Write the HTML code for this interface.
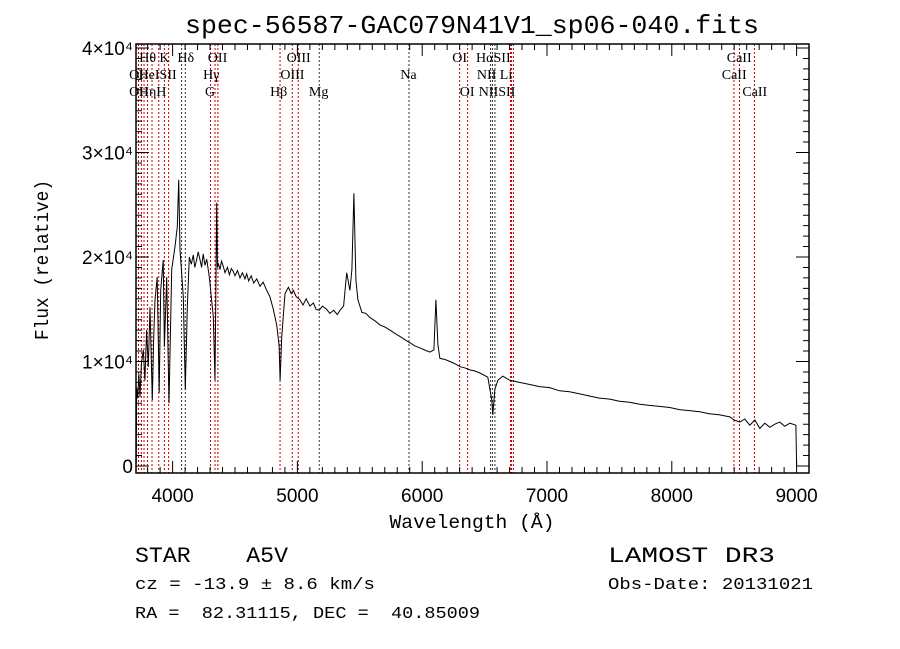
<!DOCTYPE html>
<html><head><meta charset="utf-8"><style>
html,body{margin:0;padding:0;background:#fff;}
svg{display:block;}
text{font-family:"Liberation Mono",monospace;fill:#000;white-space:pre;}
.tl{font-family:"Liberation Sans",sans-serif;font-size:19px;}
.ln{font-family:"Liberation Serif",serif;font-size:14px;}
</style></head><body>
<svg id="chart" width="900" height="649" viewBox="0 0 900 649" xmlns="http://www.w3.org/2000/svg" xml:space="preserve">
<rect width="900" height="649" fill="#fff"/>
<text x="472" y="33" text-anchor="middle" font-size="26" textLength="574" lengthAdjust="spacingAndGlyphs">spec-56587-GAC079N41V1_sp06-040.fits</text>
<g id="lines"></g>
<g id="labels"></g>
<path id="spec" fill="none" stroke="#000" stroke-width="1"/>
<g id="axes"></g>
<text x="472" y="528" text-anchor="middle" font-size="19" textLength="165" lengthAdjust="spacingAndGlyphs">Wavelength (Å)</text>
<text x="0" y="0" transform="translate(48,260) rotate(-90)" text-anchor="middle" font-size="19" textLength="160" lengthAdjust="spacingAndGlyphs">Flux (relative)</text>
<text x="135" y="562" font-size="22" textLength="153" lengthAdjust="spacingAndGlyphs">STAR    A5V</text>
<text x="135" y="589" font-size="17" textLength="240" lengthAdjust="spacingAndGlyphs">cz = -13.9 ± 8.6 km/s</text>
<text x="135" y="618" font-size="17" textLength="345" lengthAdjust="spacingAndGlyphs">RA =  82.31115, DEC =  40.85009</text>
<text x="608" y="562" font-size="22" textLength="167" lengthAdjust="spacingAndGlyphs">LAMOST DR3</text>
<text x="608" y="589" font-size="17" textLength="205" lengthAdjust="spacingAndGlyphs">Obs-Date: 20131021</text>
</svg>
<script>
const wave = [
3708,3712,3720,3730,3739,3750,3765,3778,3792,3805,
3819,3837,3848,3859,3877,3893,3905,3925,3934,3953,
3971,3993,4019,4038,4049,4059,4086,4102,4118,4134,
4150,4166,4178,4190,4205,4220,4232,4245,4260,4273,
4294,4326,4340,4353,4360,4366,4380,4392,4406,4420,
4440,4455,4470,4486,4500,4520,4540,4560,4580,4594,
4610,4630,4650,4674,4700,4725,4754,4780,4807,4834,
4853,4861,4874,4901,4928,4950,4968,4990,5021,5045,
5070,5100,5128,5150,5175,5200,5235,5260,5290,5320,
5341,5370,5395,5421,5437,5453,5469,5485,5517,5550,
5581,5620,5661,5700,5741,5780,5821,5860,5901,5940,
5982,6020,6062,6094,6110,6126,6142,6180,6222,6260,
6302,6340,6382,6420,6462,6526,6558,6566,6582,6606,
6646,6702,6780,6862,6940,7022,7100,7180,7263,7340,
7420,7503,7580,7660,7744,7820,7900,7984,8060,8140,
8224,8300,8380,8465,8500,8545,8585,8625,8665,8705,
8745,8785,8825,8865,8905,8946,8994,9000];
const flux = [
300,7500,6500,8800,6600,9800,11100,8200,13000,9500,
15200,6300,12000,15900,18100,7000,16800,19700,11400,18100,
6000,18800,21000,22900,27400,20700,16200,7300,15200,20000,
19300,20200,19000,19600,20500,19700,19000,20300,19200,19800,
18100,14300,8200,25200,19000,19400,18800,19600,19100,18500,
19000,18300,18900,18600,18200,18700,18000,18500,17900,18400,
17700,18200,17500,17900,17200,17600,16800,16200,15000,13500,
11500,8200,12300,16500,17100,16500,16800,16200,15900,15400,
16000,15300,15600,15000,14900,15300,15000,14600,14900,14500,
14900,15300,18500,16800,18800,26100,17800,15900,14700,14600,
14200,13900,13500,13300,13000,12700,12400,12100,11800,11500,
11300,11100,10900,11100,15900,11600,10300,10200,10000,9800,
9500,9400,9200,9100,8900,8500,6300,4900,7300,8200,
8600,8200,8000,7800,7600,7500,7200,7100,6900,6700,
6500,6400,6200,6100,5900,5800,5700,5600,5400,5300,
5200,5000,4900,4700,4400,4200,4500,3900,4400,3600,
4100,3700,4000,4200,3800,4100,3900,0];
const markWave = [3727,3750,3771,3798,3835,3889,3934,3968,4072,4102,4304,4340,4363,4861,4959,5007,5175,5894,6300,6364,6548,6563,6583,6708,6716,6731,8498,8542,8662];
const labelText = ["Hθ","K","Hδ","OII","OIII","OI","HαSII","CaII","OII","HeISII","Hγ","OIII","Na","NII Li","CaII","OII","HηH","G","Hβ","Mg","OI","NIISII","CaII"];
const labelWave = [3800,3935,4105,4360,5010,6300,6570,8540,3730,3880,4310,4960,5890,6580,8500,3730,3840,4300,4850,5170,6360,6600,8665];
const labelRow = [0,0,0,0,0,0,0,0,1,1,1,1,1,1,1,2,2,2,2,2,2,2,2];
const xTicks = [4000,5000,6000,7000,8000,9000];
const yTicks = [0,10000,20000,30000,40000];
const yTickLabels = ["0","1×10⁴","2×10⁴","3×10⁴","4×10⁴"];

const L=136,R=809,T=44,B=473;
const X = w => 172.6 + (w-4000)*0.1248;
const Y = f => 466 - f*104.5/10000;
const NS="http://www.w3.org/2000/svg";
function mk(tag,parent){const e=document.createElementNS(NS,tag);parent.appendChild(e);return e;}

const lg=document.getElementById('lines');
markWave.forEach(w=>{
  const l=mk('line',lg);
  
  
  l.setAttribute('x1',X(w));l.setAttribute('x2',X(w));l.setAttribute('y1',T);l.setAttribute('y2',B);
  l.setAttribute('stroke',(w>=5800&&w<=5990)||(w>=6540&&w<=6590)||w==5175||w==4102||w==4072?'#333':'#c00000');
  l.setAttribute('stroke-width','1');l.setAttribute('stroke-dasharray','2,2');
});
const lab=document.getElementById('labels');
labelText.forEach((t,i)=>{
  const e=mk('text',lab);
  
  
  e.setAttribute('class','ln');
  e.setAttribute('x',X(labelWave[i]));e.setAttribute('y',62+labelRow[i]*17);
  e.setAttribute('text-anchor','middle');
  e.textContent=t;
});

let d='';
const n=Math.min(wave.length,flux.length);
for(let i=0;i<n;i++){d+=(i?'L':'M')+X(wave[i]).toFixed(1)+','+Y(flux[i]).toFixed(1);}
document.getElementById('spec').setAttribute('d',d);

const ax=document.getElementById('axes');
const fr=mk('rect',ax);


fr.setAttribute('x',L);fr.setAttribute('y',T);fr.setAttribute('width',R-L);fr.setAttribute('height',B-T);
fr.setAttribute('fill','none');fr.setAttribute('stroke','#000');fr.setAttribute('stroke-width','1.5');
let td='';
for(let w=3800;w<=9000;w+=100){const x=X(w);const len=(w%1000==0)?12:6;td+=`M${x},${B}v${-len}M${x},${T}v${len}`;}
for(let f=0;f<=40000;f+=1000){const y=Y(f);const len=(f%10000==0)?13:6;td+=`M${L},${y}h${len}M${R},${y}h${-len}`;}
const tp=mk('path',ax);


tp.setAttribute('d',td);tp.setAttribute('stroke','#000');tp.setAttribute('stroke-width','1');
xTicks.forEach(w=>{
  const e=mk('text',ax);
  
  
  e.setAttribute('class','tl');e.setAttribute('x',X(w));e.setAttribute('y',502);e.setAttribute('text-anchor','middle');
  e.textContent=w;
});
yTicks.forEach((f,i)=>{
  const e=mk('text',ax);
  
  
  e.setAttribute('class','tl');e.setAttribute('x',133);e.setAttribute('y',Y(f)+7);e.setAttribute('text-anchor','end');
  e.textContent=yTickLabels[i];
});
</script>
</body></html>
